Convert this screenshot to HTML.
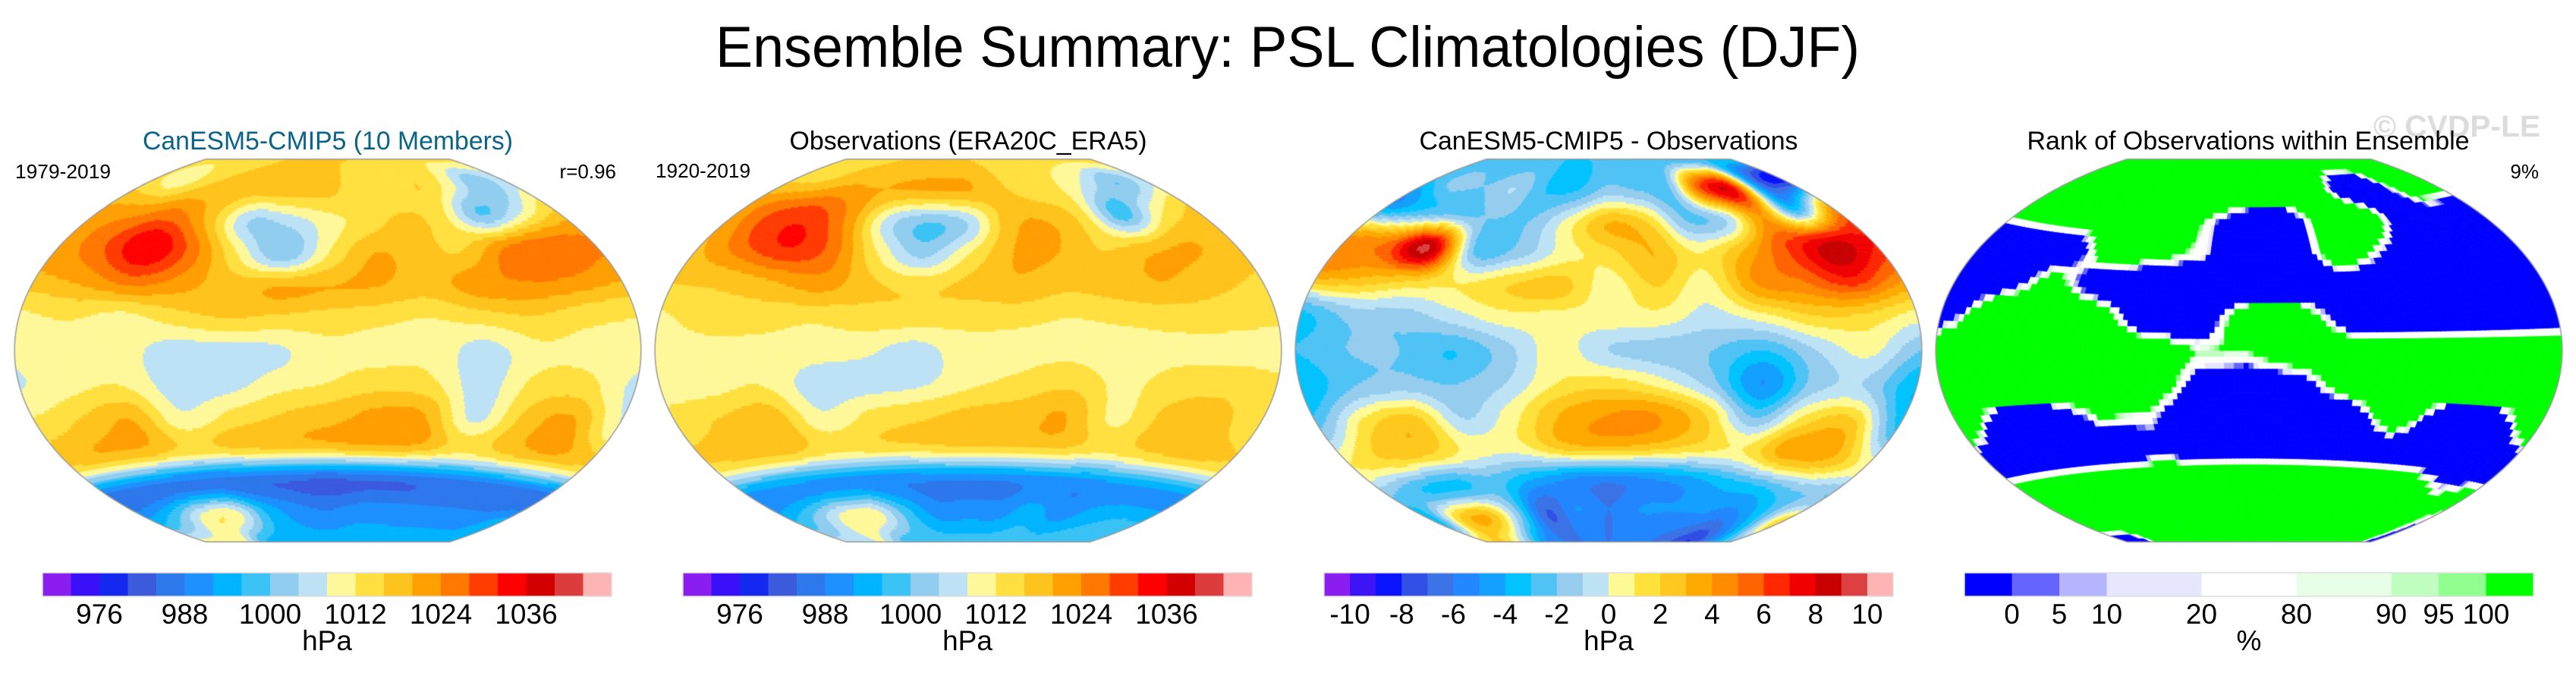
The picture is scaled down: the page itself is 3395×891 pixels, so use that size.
<!DOCTYPE html>
<html><head><meta charset="utf-8"><title>Ensemble Summary: PSL Climatologies (DJF)</title>
<style>
html,body{margin:0;padding:0;background:#fff;}
#wrap{position:relative;width:3395px;height:891px;overflow:hidden;background:#fff;}
#maps{position:absolute;left:0;top:0;}
#overlay{position:absolute;left:0;top:0;}
text{font-family:"Liberation Sans",Arial,sans-serif;}
</style></head>
<body>
<div id="wrap">
<canvas id="maps" width="3395" height="891"></canvas>
<svg id="overlay" width="3395" height="891" xmlns="http://www.w3.org/2000/svg">
  <text x="1697" y="88" font-size="76" text-anchor="middle" textLength="1508" lengthAdjust="spacingAndGlyphs">Ensemble Summary: PSL Climatologies (DJF)</text>
  <text x="3128" y="180" font-size="40" font-weight="bold" fill="#dcdcdc" textLength="220" lengthAdjust="spacingAndGlyphs">© CVDP-LE</text>
  <text x="432" y="197" font-size="34" fill="#0a6488" text-anchor="middle" textLength="488" lengthAdjust="spacingAndGlyphs">CanESM5-CMIP5 (10 Members)</text>
  <text x="1276" y="197" font-size="34" text-anchor="middle" textLength="471" lengthAdjust="spacingAndGlyphs">Observations (ERA20C_ERA5)</text>
  <text x="2120" y="197" font-size="34" text-anchor="middle" textLength="499" lengthAdjust="spacingAndGlyphs">CanESM5-CMIP5 - Observations</text>
  <text x="2963" y="197" font-size="34" text-anchor="middle" textLength="583" lengthAdjust="spacingAndGlyphs">Rank of Observations within Ensemble</text>
  <text x="20" y="235" font-size="26" textLength="126" lengthAdjust="spacingAndGlyphs">1979-2019</text>
  <text x="812" y="235" font-size="26" text-anchor="end">r=0.96</text>
  <text x="864" y="234" font-size="26" textLength="125" lengthAdjust="spacingAndGlyphs">1920-2019</text>
  <text x="3346" y="235" font-size="26" text-anchor="end">9%</text>
  <g id="cbars"></g>
</svg>
</div>
<script>
// ---------- data ----------
const gridLats = [90,75,60,45,30,15,0,-15,-30,-45,-60,-75,-90];
const gridLons = [30,60,90,120,150,180,210,240,270,300,330,360,390];

const modelPSL = [
 [1013,1013,1014,1015,1016,1016,1016,1016,1015,1014,1013,1013,1013],
 [1013,1010,1016,1018,1018,1018,1017,1014,1013,1016,1010,1001,1006],
 [1020,1022,1026,1018,1004,1005,1010,1014,1017,1013,1000,1006,1014],
 [1022,1028,1036,1026,1012,1001,1012,1020,1018,1016,1024,1026,1024],
 [1020,1022,1026,1022,1018,1020,1020,1020,1018,1022,1024,1024,1022],
 [1012,1013,1011,1014,1016,1015,1014,1013,1012,1014,1016,1014,1013],
 [1009,1010,1010,1006,1006,1007,1011,1011,1011,1006,1011,1011,1010],
 [1008,1011,1012,1006,1006,1010,1012,1014,1013,1006,1013,1014,1007],
 [1014,1017,1020,1009,1013,1016,1018,1021,1020,1007,1017,1021,1009],
 [1016,1018,1017,1014,1016,1017,1018,1019,1018,1013,1016,1018,1016],
 [986,986,986,986,985,985,984,985,985,986,986,986,986],
 [994,1000,1010,1010,996,990,988,990,990,990,990,990,994],
 [1010,1010,1010,996,994,994,994,994,994,994,994,994,996]
];
const obsPSL = [
 [1014,1014,1015,1016,1016,1016,1016,1015,1014,1013,1013,1013,1014],
 [1015,1016,1020,1020,1020,1020,1020,1017,1014,1012,1006,1000,1006],
 [1022,1028,1030,1022,1006,1000,1004,1018,1020,1014,998,1010,1016],
 [1020,1028,1032,1026,1012,1003,1012,1020,1020,1016,1018,1020,1018],
 [1018,1018,1020,1022,1017,1015,1017,1019,1017,1018,1020,1018,1016],
 [1012,1014,1014,1013,1014,1014,1013,1013,1012,1013,1014,1014,1013],
 [1011,1011,1011,1010,1009,1006,1011,1011,1011,1010,1011,1011,1011],
 [1011,1011,1012,1006,1006,1007,1011,1013,1015,1011,1014,1015,1013],
 [1014,1017,1019,1009,1013,1015,1017,1018,1020,1011,1017,1018,1013],
 [1015,1016,1016,1013,1014,1015,1016,1016,1016,1013,1015,1016,1015],
 [990,990,990,990,989,989,989,989,990,990,991,991,991],
 [996,1002,1010,1010,998,990,990,990,994,990,994,996,996],
 [1006,1006,1008,998,998,998,998,998,998,998,998,998,998]
];
const diffPSL = [
 [-3,-3,-3,-3,-3,-3,-3,-3,-3,-3,-3,-3,-3],
 [-3,-1.5,-2,-1,-3,-3,-1.5,-2,-2,6,7,-6,-9],
 [-5,-3,-2,-2,-2,0.5,3,2,-2,-1,4,-3,3],
 [4,5,9,-2,-1.5,0.5,1.5,3,1,3,6,8,7],
 [4,3,2,1,2,2.5,0.5,2,0.5,4,5,7,5],
 [-3,-1.5,-1.5,-0.5,0.5,0.5,0.5,0.5,-0.5,0.5,2,2,1],
 [-3,-2,-2,-3,-1.5,0.5,-1,-1.5,-2,-3,-1,0.3,-2],
 [-4,-2,-1.5,-2,-1,1,1.5,0.5,-1.5,-5,-1.5,-1,-4],
 [-2,1.5,2.5,-1,0.5,3,4,4,2,-2,1.5,2.5,-3],
 [1,2,2,0.5,0.5,2.5,3,2.5,1.5,1,3.5,3,0.5],
 [-2,-3,-3.5,-2.5,-4,-5,-5.5,-5,-4.5,-3.5,-3,-2,-2],
 [-4,2,3,-1.5,-7,-5,-6,-5,-5,-5,-5.5,-3,2],
 [2,2,-1,-5,-6,-6,-6,-6,-6,-7,-8,-5,-2]
];
const rankObs = [
 [100,100,100,100,100,100,100,100,100,100,100,100,100],
 [100,100,100,100,100,100,100,100,100,0,10,100,100],
 [100,100,100,100,100,50,0,0,100,100,0,30,20],
 [0,0,0,100,70,50,0,0,100,40,0,0,0],
 [0,0,80,0,0,0,0,0,0,0,0,0,0],
 [0,100,100,100,0,0,100,100,0,0,0,0,0],
 [100,100,100,100,100,60,60,100,100,100,100,100,100],
 [100,100,100,100,100,30,20,20,100,100,100,100,100],
 [100,0,0,60,50,0,0,0,0,100,0,0,100],
 [0,0,0,0,30,0,0,0,0,0,0,0,0],
 [100,100,100,100,100,100,100,100,100,100,100,50,80],
 [100,100,60,100,100,100,100,100,100,100,100,100,40],
 [0,20,100,100,100,100,100,100,100,100,100,100,20]
];

const pslLevels = [972,976,980,984,988,992,996,1000,1004,1008,1012,1016,1020,1024,1028,1032,1036,1040,1044];
const pslTickLabels = ['976','988','1000','1012','1024','1036'];
const pslTickIndex = [2,5,8,11,14,17];
const diffLevels = [-10,-9,-8,-7,-6,-5,-4,-3,-2,-1,0,1,2,3,4,5,6,7,8,9,10];
const diffTickLabels = ['-10','-8','-6','-4','-2','0','2','4','6','8','10'];
const rankLevels = [0,5,10,20,80,90,95,100];
const rankBoxUnits = [1,1,1,2,2,2,1,1,1];

const pslColors = ['#8a1ef0','#3a10f8','#1428f0','#3c5adc','#2d78eb','#1e90ff','#00b4ff','#3cc3f5','#91cdee','#bde2f5','#fff89a','#ffe040','#ffc31e','#ff9f00','#ff7800','#ff3c00','#ff0000','#d20000','#dc3c3c','#ffb4b4'];
const diffColors = ['#8a1ef0','#3c14f5','#0a14ff','#3250e6','#3c73e6','#2387ff','#14a0ff','#00c3ff','#50c3f5','#96cdee','#bde3f5','#fffa96','#ffe13c','#ffc81e','#ffaa00','#ff8c00','#ff6400','#ff2800','#f00000','#c80000','#dc4040','#ffb4b4'];
const rankColors = ['#0000ff','#6464ff','#b4b4ff','#e6e6ff','#ffffff','#e6ffe6','#c0ffc0','#90ff90','#00ff00'];

// ---------- projection (Winkel tripel, centred on 210E) ----------
const S = 160.6, CY = 462, LON0 = 210;
const mapCenters = [432,1276,2120,2964];
function wt(lamDeg, phiDeg){
  const l = lamDeg*Math.PI/180, p = phiDeg*Math.PI/180;
  const a = Math.acos(Math.cos(p)*Math.cos(l/2));
  const sinc = a < 1e-9 ? 1 : Math.sin(a)/a;
  return [0.5*(l*2/Math.PI + 2*Math.cos(p)*Math.sin(l/2)/sinc), 0.5*(p + Math.sin(p)/sinc)];
}
function gv(g,i,j){ i=Math.max(0,Math.min(12,i)); j=Math.max(0,Math.min(12,j)); return g[i][j]; }
function cr(p0,p1,p2,p3,t){ return 0.5*(2*p1+(-p0+p2)*t+(2*p0-5*p1+4*p2-p3)*t*t+(-p0+3*p1-3*p2+p3)*t*t*t); }
function cubic(g,r,c){
  const i=Math.floor(r), j=Math.floor(c), tr=r-i, tc=c-j, rows=[];
  for(let k=-1;k<=2;k++) rows.push(cr(gv(g,i+k,j-1),gv(g,i+k,j),gv(g,i+k,j+1),gv(g,i+k,j+2),tc));
  return cr(rows[0],rows[1],rows[2],rows[3],tr);
}
function bilin(g,r,c){
  const i=Math.floor(r), j=Math.floor(c), tr=r-i, tc=c-j;
  const a=gv(g,i,j)*(1-tc)+gv(g,i,j+1)*tc, b=gv(g,i+1,j)*(1-tc)+gv(g,i+1,j+1)*tc;
  return a*(1-tr)+b*tr;
}
function boxIndex(levels,v){ let n=0; for(const b of levels) if(b<=v) n++; return n; }
function rankBox(v){
  v = 50 + (v-50)*6;           // sharpen transitions between ensemble extremes
  if(v>=100) return 8; let n=0; for(const b of rankLevels) if(b<v) n++; return n;
}

const cv = document.getElementById('maps'), ctx = cv.getContext('2d');
function outline(cx){
  ctx.beginPath();
  for(let la=-90; la<=90; la+=1){ const q=wt(-180,la); const X=cx+q[0]*S, Y=CY-q[1]*S; la===-90?ctx.moveTo(X,Y):ctx.lineTo(X,Y); }
  for(let la=90; la>=-90; la-=1){ const q=wt(180,la); ctx.lineTo(cx+q[0]*S, CY-q[1]*S); }
  ctx.closePath();
}
function drawMap(cx, grid, mode){
  const d = mode==='rank' ? 2.8125 : 1;
  const NL = Math.round(360/d), NP = Math.round(180/d);
  const P = [];
  for(let i=0;i<=NL;i++){ P.push([]); for(let j=0;j<=NP;j++){ const q=wt(-180+i*d,-90+j*d); P[i].push([cx+q[0]*S, CY-q[1]*S]); } }
  ctx.save(); outline(cx); ctx.clip();
  ctx.lineWidth = 1;
  for(let i=0;i<NL;i++){
    for(let j=0;j<NP;j++){
      const lam=-180+(i+0.5)*d, phi=-90+(j+0.5)*d;
      const r=(90-phi)/15, c=(LON0+lam-gridLons[0])/30;
      let col;
      if(mode==='rank') col = rankColors[rankBox(bilin(grid,r,c))];
      else if(mode==='diff') col = diffColors[boxIndex(diffLevels,cubic(grid,r,c))];
      else col = pslColors[boxIndex(pslLevels,cubic(grid,r,c))];
      ctx.fillStyle=col; ctx.strokeStyle=col;
      ctx.beginPath();
      ctx.moveTo(P[i][j][0],P[i][j][1]); ctx.lineTo(P[i+1][j][0],P[i+1][j][1]);
      ctx.lineTo(P[i+1][j+1][0],P[i+1][j+1][1]); ctx.lineTo(P[i][j+1][0],P[i][j+1][1]);
      ctx.closePath(); ctx.fill(); ctx.stroke();
    }
  }
  ctx.restore();
  outline(cx); ctx.strokeStyle='#999'; ctx.lineWidth=1.5; ctx.stroke();
}
drawMap(mapCenters[0], modelPSL, 'psl');
drawMap(mapCenters[1], obsPSL, 'psl');
drawMap(mapCenters[2], diffPSL, 'diff');
drawMap(mapCenters[3], rankObs, 'rank');

// ---------- colorbars ----------
const NS='http://www.w3.org/2000/svg';
const cb = document.getElementById('cbars');
const CBY=755, CBH=31, CBW=750;
function mk(tag, attrs, parent){ const e=document.createElementNS(NS,tag); for(const k in attrs) e.setAttribute(k,attrs[k]); parent.appendChild(e); return e; }
function colorbar(x0, colors, units, labels, labelPos, unitText, nameBase){
  const g = mk('g',{},cb);
  
  
  const tot = units.reduce((a,b)=>a+b,0); let acc=0;
  colors.forEach((c,k)=>{
    const w = units[k]/tot*CBW;
    const r = mk('rect',{x:x0+acc,y:CBY,width:w+0.5,height:CBH,fill:c},g);
    
    
    acc+=w;
  });
  mk('rect',{x:x0,y:CBY,width:CBW,height:CBH,fill:'none',stroke:'#ddd','stroke-width':1.5},g);
  labels.forEach((t,k)=>{
    const tx = mk('text',{x:x0+labelPos[k]/tot*CBW,y:822,'font-size':37,'text-anchor':'middle'},g);
    tx.textContent=t;
    
    
  });
  const u = mk('text',{x:x0+CBW/2,y:857,'font-size':37,'text-anchor':'middle'},g);
  u.textContent=unitText;
  
  
}
const ones20 = pslColors.map(()=>1), ones22 = diffColors.map(()=>1);
colorbar(56, pslColors, ones20, pslTickLabels, pslTickIndex, 'hPa', 'model');
colorbar(900, pslColors, ones20, pslTickLabels, pslTickIndex, 'hPa', 'obs');
colorbar(1745, diffColors, ones22, diffTickLabels, diffTickLabels.map((t,k)=>1+2*k), 'hPa', 'diff');
const rankPos = []; { let a=0; for(let k=0;k<rankLevels.length;k++){ a+=rankBoxUnits[k]; rankPos.push(a);} }
colorbar(2589, rankColors, rankBoxUnits, rankLevels.map(String), rankPos, '%', 'rank');
</script>
</body></html>
